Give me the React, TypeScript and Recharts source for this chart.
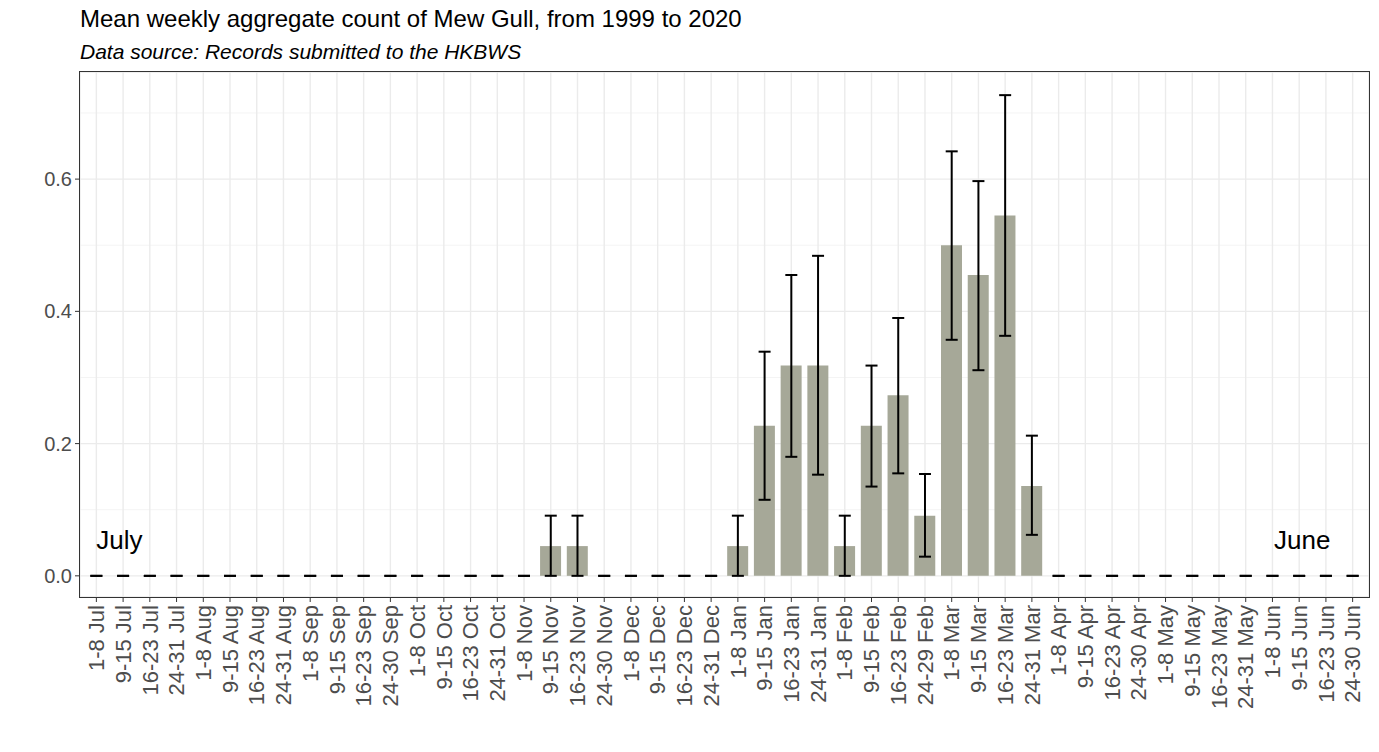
import React from "react";
import {
  Bar,
  ComposedChart,
  CartesianGrid,
  ErrorBar,
  Line,
  ReferenceDot,
  XAxis,
  YAxis,
} from "recharts";

const weeks = [
  "1-8 Jul", "9-15 Jul", "16-23 Jul", "24-31 Jul",
  "1-8 Aug", "9-15 Aug", "16-23 Aug", "24-31 Aug",
  "1-8 Sep", "9-15 Sep", "16-23 Sep", "24-30 Sep",
  "1-8 Oct", "9-15 Oct", "16-23 Oct", "24-31 Oct",
  "1-8 Nov", "9-15 Nov", "16-23 Nov", "24-30 Nov",
  "1-8 Dec", "9-15 Dec", "16-23 Dec", "24-31 Dec",
  "1-8 Jan", "9-15 Jan", "16-23 Jan", "24-31 Jan",
  "1-8 Feb", "9-15 Feb", "16-23 Feb", "24-29 Feb",
  "1-8 Mar", "9-15 Mar", "16-23 Mar", "24-31 Mar",
  "1-8 Apr", "9-15 Apr", "16-23 Apr", "24-30 Apr",
  "1-8 May", "9-15 May", "16-23 May", "24-31 May",
  "1-8 Jun", "9-15 Jun", "16-23 Jun", "24-30 Jun",
];

// mean weekly count
const means = [
  0, 0, 0, 0,
  0, 0, 0, 0,
  0, 0, 0, 0,
  0, 0, 0, 0,
  0, 0.045, 0.045, 0,
  0, 0, 0, 0,
  0.045, 0.227, 0.318, 0.318,
  0.045, 0.227, 0.273, 0.091,
  0.5, 0.455, 0.545, 0.136,
  0, 0, 0, 0,
  0, 0, 0, 0,
  0, 0, 0, 0,
];

// error bar ends
const lower = [
  0, 0, 0, 0,
  0, 0, 0, 0,
  0, 0, 0, 0,
  0, 0, 0, 0,
  0, 0, 0, 0,
  0, 0, 0, 0,
  0, 0.115, 0.18, 0.153,
  0, 0.135, 0.155, 0.029,
  0.357, 0.311, 0.363, 0.062,
  0, 0, 0, 0,
  0, 0, 0, 0,
  0, 0, 0, 0,
];

const upper = [
  0, 0, 0, 0,
  0, 0, 0, 0,
  0, 0, 0, 0,
  0, 0, 0, 0,
  0, 0.091, 0.091, 0,
  0, 0, 0, 0,
  0.091, 0.339, 0.455, 0.484,
  0.091, 0.318, 0.39, 0.154,
  0.642, 0.597, 0.727, 0.212,
  0, 0, 0, 0,
  0, 0, 0, 0,
  0, 0, 0, 0,
];

const yTicks = [0, 0.2, 0.4, 0.6];
const yMinor = [0.1, 0.3, 0.5, 0.7];

const data = weeks.map((week, i) => ({
  week,
  mean: means[i],
  err: [means[i] - lower[i], upper[i] - means[i]],
}));

const FONT = '"Liberation Sans", Arial, sans-serif';

function WeekTick(props: any) {
  const { x, y, payload } = props;
  return (
    <text
      x={x}
      y={y}
      dy="0.35em"
      textAnchor="end"
      transform={`rotate(-90, ${x}, ${y})`}
      fill="#4d4d4d"
      fontSize={22}
      fontFamily={FONT}
    >
      {payload.value}
    </text>
  );
}

export default function App() {
  return (
    <div
      style={{
        position: "absolute",
        left: 0,
        top: 0,
        width: 1379,
        height: 752,
        background: "#fff",
        fontFamily: FONT,
      }}
    >
      <div style={{ position: "absolute", left: 80, top: 7, fontSize: 24, lineHeight: 1, color: "#000", whiteSpace: "nowrap" }}>
        Mean weekly aggregate count of Mew Gull, from 1999 to 2020
      </div>
      <div
        style={{
          position: "absolute",
          left: 80,
          top: 41,
          fontSize: 21,
          lineHeight: 1,
          fontStyle: "italic",
          color: "#000",
          whiteSpace: "nowrap",
        }}
      >
        Data source: Records submitted to the HKBWS
      </div>
      <ComposedChart
        width={1379}
        height={752}
        data={data}
        barCategoryGap="10%"
        margin={{ top: 72, right: 10, bottom: 0, left: 0 }}
        style={{ position: "absolute", left: 0, top: 0 }}
      >
        <CartesianGrid horizontalValues={yMinor} vertical={false} stroke="#f4f4f4" strokeWidth={1} />
        <CartesianGrid stroke="#ebebeb" strokeWidth={1.4} />
        <XAxis
          dataKey="week"
          interval={0}
          tick={<WeekTick />}
          tickLine={{ stroke: "#333" }}
          tickSize={5}
          tickMargin={3}
          axisLine={false}
          height={155}
          padding={{ left: 3, right: 3 }}
        />
        <YAxis
          type="number"
          domain={[-0.032, 0.762]}
          allowDataOverflow
          ticks={yTicks}
          tickFormatter={(v: number) => v.toFixed(1)}
          tick={{ fill: "#4d4d4d", fontSize: 20 }}
          tickLine={{ stroke: "#333" }}
          tickSize={5}
          tickMargin={3}
          axisLine={false}
          width={80}
        />
        <Bar dataKey="mean" fill="#a6a898" isAnimationActive={false} />
        <Line
          dataKey="mean"
          stroke="none"
          dot={false}
          activeDot={false}
          isAnimationActive={false}
        >
          <ErrorBar dataKey="err" width={6} stroke="#000" strokeWidth={2} direction="y" />
        </Line>
        <ReferenceDot
          x="1-8 Jul"
          y={0.041}
          r={0}
          fill="none"
          stroke="none"
          label={(p: any) => (
            <text x={p.viewBox.x} y={p.viewBox.y} fontSize={26} fill="#000" fontFamily={FONT}>
              July
            </text>
          )}
        />
        <ReferenceDot
          x="9-15 Jun"
          y={0.041}
          r={0}
          fill="none"
          stroke="none"
          label={(p: any) => (
            <text
              x={p.viewBox.x + 3}
              y={p.viewBox.y}
              fontSize={26}
              textAnchor="middle"
              fill="#000"
              fontFamily={FONT}
            >
              June
            </text>
          )}
        />
      </ComposedChart>
      <div
        style={{
          position: "absolute",
          left: 79,
          top: 71,
          width: 1289,
          height: 525,
          border: "1px solid #333",
          pointerEvents: "none",
        }}
      />
    </div>
  );
}
